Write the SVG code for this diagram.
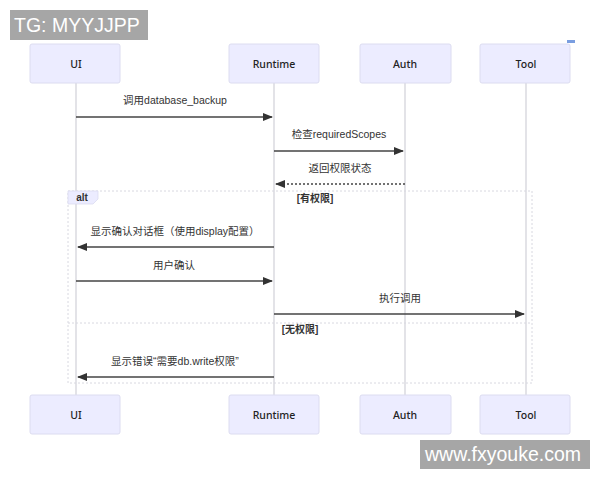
<svg xmlns="http://www.w3.org/2000/svg" width="600" height="480" viewBox="0 0 600 480">
<style>
.actor{fill:#ECECFF;stroke:#dcdcf0;stroke-width:1}
.atext{font-family:"Noto Sans","Noto Sans CJK SC",sans-serif;font-size:10.5px;fill:#222;text-anchor:middle;font-weight:500}
.life{stroke:#d0d0d8;stroke-width:1.2}
.msg{stroke:#444;stroke-width:1.3;fill:none}
.dash{stroke-dasharray:2,2}
.mtext{font-family:"Liberation Sans","Noto Sans CJK SC",sans-serif;font-size:10.5px;fill:#333;text-anchor:middle}
.frame{fill:none;stroke:#d8d8e0;stroke-width:1;stroke-dasharray:2,2}
.ctext{font-family:"Liberation Sans","Noto Sans CJK SC",sans-serif;font-size:10px;fill:#333;text-anchor:middle;font-weight:bold}
.wm{font-family:"Liberation Sans",sans-serif;font-size:19.5px;fill:#fff}
</style>
<defs>
<marker id="ah" markerWidth="10" markerHeight="8" refX="9" refY="4" orient="auto" markerUnits="userSpaceOnUse">
<path d="M0,0 L10,4 L0,8 z" fill="#333"/>
</marker>
</defs>
<rect width="600" height="480" fill="#fff"/>
<g id="lifelines">
<line class="life" x1="76" y1="83" x2="76" y2="395"/>
<line class="life" x1="274" y1="83" x2="274" y2="395"/>
<line class="life" x1="405" y1="83" x2="405" y2="395"/>
<line class="life" x1="526" y1="83" x2="526" y2="395"/>
</g>
<g id="actor-UI-top"><rect class="actor" x="30" y="44" width="90" height="39" rx="2"/><text class="atext" x="76" y="68">UI</text></g>
<g id="actor-Runtime-top"><rect class="actor" x="229" y="44" width="90" height="39" rx="2"/><text class="atext" x="274" y="68">Runtime</text></g>
<g id="actor-Auth-top"><rect class="actor" x="360" y="44" width="91" height="39" rx="2"/><text class="atext" x="405" y="68">Auth</text></g>
<g id="actor-Tool-top"><rect class="actor" x="480" y="44" width="90" height="39" rx="2"/><text class="atext" x="526" y="68">Tool</text></g>
<rect x="567" y="40" width="8" height="3" fill="#7a9ee0"/>
<g id="alt-frame">
<rect class="frame" x="68" y="191" width="464" height="192"/>
<path d="M68,191 L98,191 L98,199 L93,204 L68,204 z" fill="#ECECFF" stroke="#dcdcf0" stroke-width="0.8"/>
<text class="ctext" x="82" y="201">alt</text>
<text class="ctext" x="315" y="202">[有权限]</text>
<line class="frame" x1="68" y1="323" x2="532" y2="323"/>
<text class="ctext" x="300" y="333">[无权限]</text>
</g>
<g id="connectors">
<text class="mtext" x="175" y="104">调用database_backup</text>
<line class="msg" x1="76" y1="117" x2="272" y2="117" marker-end="url(#ah)"/>
<text class="mtext" x="339" y="138">检查requiredScopes</text>
<line class="msg" x1="274" y1="151" x2="403" y2="151" marker-end="url(#ah)"/>
<text class="mtext" x="340" y="172">返回权限状态</text>
<line class="msg dash" x1="405" y1="184" x2="276" y2="184" marker-end="url(#ah)"/>
<text class="mtext" x="175" y="235">显示确认对话框（使用display配置）</text>
<line class="msg" x1="274" y1="247" x2="78" y2="247" marker-end="url(#ah)"/>
<text class="mtext" x="174" y="269">用户确认</text>
<line class="msg" x1="76" y1="281" x2="272" y2="281" marker-end="url(#ah)"/>
<text class="mtext" x="400" y="302">执行调用</text>
<line class="msg" x1="274" y1="314" x2="524" y2="314" marker-end="url(#ah)"/>
<text class="mtext" x="175" y="365">显示错误“需要db.write权限”</text>
<line class="msg" x1="274" y1="377" x2="78" y2="377" marker-end="url(#ah)"/>
</g>
<g id="actor-UI-bottom"><rect class="actor" x="30" y="395" width="90" height="39" rx="2"/><text class="atext" x="76" y="419">UI</text></g>
<g id="actor-Runtime-bottom"><rect class="actor" x="229" y="395" width="90" height="39" rx="2"/><text class="atext" x="274" y="419">Runtime</text></g>
<g id="actor-Auth-bottom"><rect class="actor" x="360" y="395" width="91" height="39" rx="2"/><text class="atext" x="405" y="419">Auth</text></g>
<g id="actor-Tool-bottom"><rect class="actor" x="480" y="395" width="90" height="39" rx="2"/><text class="atext" x="526" y="419">Tool</text></g>
<g id="watermarks">
<rect x="10" y="10" width="138" height="30" fill="#a6a6a6"/>
<text class="wm" x="14" y="32">TG: MYYJJPP</text>
<rect x="420" y="440" width="170" height="29" fill="#a6a6a6"/>
<text class="wm" x="425" y="461">www.fxyouke.com</text>
</g>
</svg>
